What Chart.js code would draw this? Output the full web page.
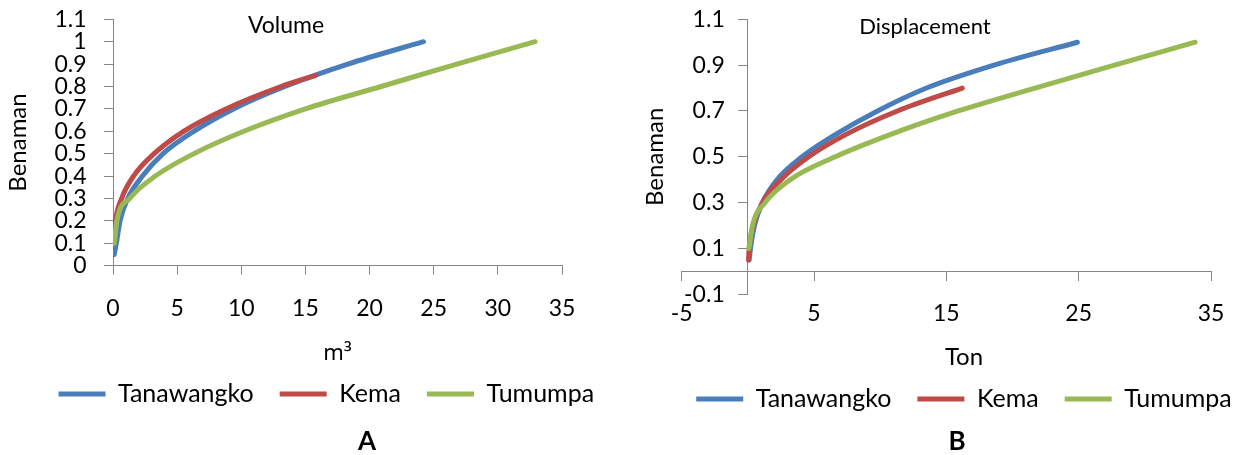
<!DOCTYPE html>
<html>
<head>
<meta charset="utf-8">
<script src="https://cdn.jsdelivr.net/npm/chart.js@4.4.1/dist/chart.umd.min.js"></script>
<style>
  html, body { margin: 0; padding: 0; background: #fff; overflow: hidden; }
  body { width: 1237px; height: 455px; position: relative; font-family: Lato, sans-serif; }
  canvas { position: absolute; top: 0; }
  #chartA { left: 0; }
  #chartB { left: 640px; }
  .label { position: absolute; color: #000; white-space: nowrap; transform: translate(-50%, -50%); }
</style>
</head>
<body>
<canvas id="chartA" width="640" height="455"></canvas>
<canvas id="chartB" width="648" height="455"></canvas>
<div class="label" style="left:286px; top:24px; font-size:23px;">Volume</div>
<div class="label" style="left:925px; top:25px; font-size:22px;">Displacement</div>
<div class="label" style="left:367px; top:440px; font-size:26px; font-weight:bold;">A</div>
<div class="label" style="left:957px; top:440px; font-size:26px; font-weight:bold;">B</div>
<script>
const seriesNames = ['Tanawangko', 'Kema', 'Tumumpa'];
const seriesColors = ['#4A7EBB', '#BE4B48', '#98B954'];

// A: volume (m3) against benaman
const volTanawangkoX = [0.1, 0.26, 0.55, 1.15, 2.3, 3.9, 6.3, 9.4, 13.4, 18.3, 24.2];
const volTanawangkoY = [0.05, 0.1, 0.2, 0.3, 0.4, 0.5, 0.6, 0.7, 0.8, 0.9, 1.0];
const volKemaX = [0.03, 0.19, 0.67, 1.6, 3.2, 5.5, 8.8, 13.1, 15.8];
const volKemaY = [0.1, 0.2, 0.3, 0.4, 0.5, 0.6, 0.7, 0.8, 0.85];
const volTumumpaX = [0.1, 0.3, 1.3, 3.3, 6.3, 10.2, 15.0, 20.9, 26.8, 32.9];
const volTumumpaY = [0.1, 0.2, 0.3, 0.4, 0.5, 0.6, 0.7, 0.8, 0.9, 1.0];
const volXTicks = [0, 5, 10, 15, 20, 25, 30, 35];
const volYTicks = [0, 0.1, 0.2, 0.3, 0.4, 0.5, 0.6, 0.7, 0.8, 0.9, 1, 1.1];

// B: displacement (ton) against benaman
const dispTanawangkoX = [0.1, 0.2, 0.5, 1.1, 2.2, 4.1, 6.7, 9.8, 13.5, 18.6, 24.9];
const dispTanawangkoY = [0.05, 0.1, 0.2, 0.3, 0.4, 0.5, 0.6, 0.7, 0.8, 0.9, 1.0];
const dispKemaX = [0.05, 0.1, 0.4, 1.1, 2.5, 4.6, 7.5, 11.3, 16.2];
const dispKemaY = [0.05, 0.1, 0.2, 0.3, 0.4, 0.5, 0.6, 0.7, 0.8];
const dispTumumpaX = [0.08, 0.35, 1.3, 3.2, 6.6, 10.9, 15.9, 21.7, 27.7, 33.8];
const dispTumumpaY = [0.1, 0.2, 0.3, 0.4, 0.5, 0.6, 0.7, 0.8, 0.9, 1.0];
const dispXTicks = [-5, 5, 15, 25, 35];
const dispYTicks = [-0.1, 0.1, 0.3, 0.5, 0.7, 0.9, 1.1];

Chart.defaults.font.family = 'Lato, sans-serif';
Chart.defaults.color = '#000';

const axisGrey = '#868686';
const tickFont = { size: 23 };
const titleFont = { size: 24 };

function datasetsFor(xs, ys) {
  return seriesNames.map((name, i) => ({
    label: name,
    data: xs[i].map((x, j) => ({ x: x, y: ys[i][j] })),
    borderColor: seriesColors[i],
    backgroundColor: seriesColors[i],
    borderWidth: 5,
    borderCapStyle: 'round',
    pointRadius: 0,
    cubicInterpolationMode: 'monotone',
    order: 3 - i // green on top, blue underneath
  }));
}

function fmt(v) {
  return String(Math.round(v * 10) / 10);
}

function useTicks(list) {
  return scale => { scale.ticks = list.map(v => ({ value: v })); };
}

const legendOpts = {
  position: 'bottom',
  labels: {
    boxWidth: 47,
    boxHeight: 0,
    padding: 26,
    font: { size: 25 },
    color: '#000',
    sort: (a, b) => a.datasetIndex - b.datasetIndex
  }
};

// A
new Chart(document.getElementById('chartA'), {
  type: 'line',
  data: {
    datasets: datasetsFor([volTanawangkoX, volKemaX, volTumumpaX], [volTanawangkoY, volKemaY, volTumumpaY])
  },
  options: {
    responsive: false,
    animation: false,
    layout: { padding: { left: 20, right: 7.4, top: 19.3, bottom: 38.5 } },
    plugins: { legend: legendOpts, tooltip: { enabled: false } },
    scales: {
      x: {
        type: 'linear',
        min: 0,
        max: 35,
        afterBuildTicks: useTicks(volXTicks),
        afterFit: s => { s.height = 89.8; s.paddingRight = 78; },
        grid: { drawOnChartArea: false, tickLength: 9, color: axisGrey },
        border: { color: axisGrey },
        ticks: { padding: 20.5, font: tickFont, color: '#000', maxRotation: 0, autoSkip: false, callback: v => fmt(v) },
        // Lato's superscript three is tiny, Noto Sans shows it properly
        title: { display: true, text: 'm³', font: { family: '"Noto Sans", sans-serif', size: 22 }, color: '#000', padding: { top: 0, bottom: -11.9 } }
      },
      y: {
        type: 'linear',
        min: 0,
        max: 1.1,
        afterBuildTicks: useTicks(volYTicks),
        afterFit: s => { s.width = 93; s.paddingTop = 0; s.paddingBottom = 0; },
        grid: { drawOnChartArea: false, tickLength: 9, color: axisGrey },
        border: { color: axisGrey },
        ticks: { padding: 17.5, font: tickFont, color: '#000', autoSkip: false, callback: v => fmt(v) },
        title: { display: true, text: 'Benaman', font: titleFont, color: '#000', padding: { top: -16.4, bottom: 0 } }
      }
    }
  }
});

// B: axes cross at zero, so both scales sit on the other axis' zero
new Chart(document.getElementById('chartB'), {
  type: 'line',
  data: {
    datasets: datasetsFor([dispTanawangkoX, dispKemaX, dispTumumpaX], [dispTanawangkoY, dispKemaY, dispTumumpaY])
  },
  options: {
    responsive: false,
    animation: false,
    layout: { padding: { left: 0, right: 0, top: 19.3, bottom: 33.5 } },
    plugins: {
      legend: legendOpts,
      tooltip: { enabled: false },
      title: {
        display: true,
        position: 'left',
        fullSize: false,
        text: 'Benaman',
        font: { size: 24, weight: 'normal' },
        color: '#000',
        padding: { top: 0.6, bottom: 12.3 }
      },
      // x axis title; sits between the plot and the legend
      subtitle: {
        display: true,
        position: 'bottom',
        weight: 500,
        text: 'Ton',
        font: { size: 24 },
        color: '#000',
        padding: { top: 48.3, bottom: -10.9 }
      }
    },
    scales: {
      x: {
        type: 'linear',
        position: { y: 0 },
        min: -5,
        max: 35,
        afterBuildTicks: useTicks(dispXTicks),
        afterFit: s => { s.paddingRight = 77; },
        grid: { drawOnChartArea: false, tickLength: 9, color: axisGrey },
        border: { color: axisGrey },
        ticks: { padding: 19.7, font: tickFont, color: '#000', maxRotation: 0, autoSkip: false, callback: v => fmt(v) }
      },
      y: {
        type: 'linear',
        position: { x: 0 },
        min: -0.1,
        max: 1.1,
        afterBuildTicks: useTicks(dispYTicks),
        afterFit: s => { s.paddingTop = 0; s.paddingBottom = 0; },
        grid: { drawOnChartArea: false, tickLength: 9, color: axisGrey },
        border: { color: axisGrey },
        // labels of a zero-positioned y axis ignore ticks.padding, so pad with a space
        ticks: { font: tickFont, color: '#000', autoSkip: false, callback: v => fmt(v) + '\u2003 ' }
      }
    }
  }
});
</script>
</body>
</html>
